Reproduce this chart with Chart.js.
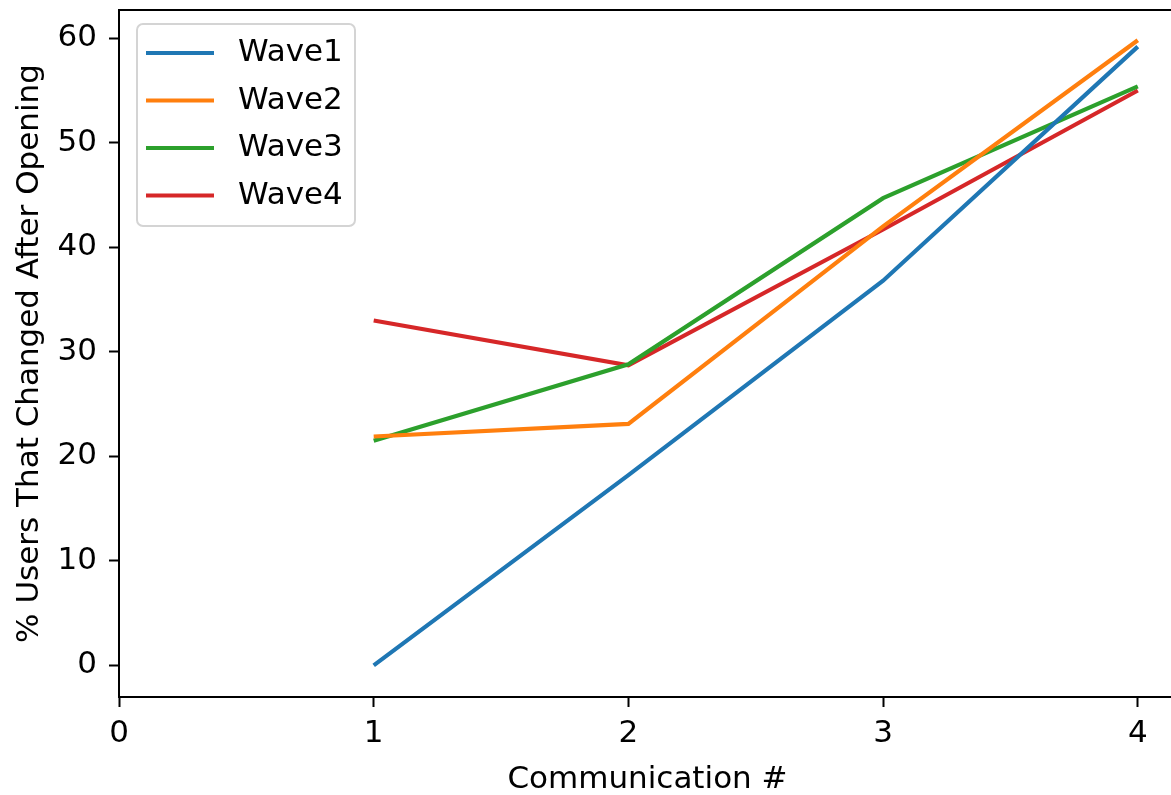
<!DOCTYPE html>
<html>
<head>
<meta charset="utf-8">
<script src="https://cdn.jsdelivr.net/npm/chart.js@4"></script>
<style>
  html, body { margin: 0; padding: 0; background: #fff; overflow: hidden; }
  #wrap { width: 1200px; height: 795px; position: relative; }
</style>
</head>
<body>
<div id="wrap"><canvas id="graph1"></canvas></div>
<script>
// communication numbers
const communications = [1, 2, 3, 4];
const wave1 = [0, 18.2, 36.8, 59.2];
const wave2 = [21.9, 23.1, 42.0, 59.8];
const wave3 = [21.5, 28.8, 44.7, 55.4];
const wave4 = [33.0, 28.7, 41.7, 55.0];
const waveNames = ['Wave1', 'Wave2', 'Wave3', 'Wave4'];
const waveColors = ['#1f77b4', '#ff7f0e', '#2ca02c', '#d62728'];
const xTicks = [0, 1, 2, 3, 4];
const yTicks = [0, 10, 20, 30, 40, 50, 60];

const FONT = "'DejaVu Sans', sans-serif";
const FS = 31;

function toPoints(vals) {
    return communications.map((c, i) => ({ x: c, y: vals[i] }));
}

const series = [wave1, wave2, wave3, wave4];
const datasets = series.map((vals, i) => ({
    label: waveNames[i],
    data: toPoints(vals),
    borderColor: waveColors[i],
    backgroundColor: waveColors[i],
    borderWidth: 4.2,
    pointRadius: 0,
    tension: 0,
    fill: false
}));

// legend box drawn inside the plot, like matplotlib
const boxLegend = {
    id: 'boxLegend',
    afterDatasetsDraw(chart) {
        const ctx = chart.ctx;
        const x = 137, y = 24, w = 218, h = 202;
        ctx.save();
        ctx.beginPath();
        ctx.roundRect(x, y, w, h, 6);
        ctx.fillStyle = 'rgba(255,255,255,0.8)';
        ctx.fill();
        ctx.strokeStyle = '#d4d4d4';
        ctx.lineWidth = 2;
        ctx.stroke();
        ctx.font = FS + 'px ' + FONT;
        ctx.textBaseline = 'middle';
        chart.data.datasets.forEach((ds, i) => {
            const cy = 53 + i * 47.5;
            ctx.beginPath();
            ctx.moveTo(146, cy);
            ctx.lineTo(214, cy);
            ctx.strokeStyle = ds.borderColor;
            ctx.lineWidth = 4.2;
            ctx.stroke();
            ctx.fillStyle = '#000';
            ctx.fillText(ds.label, 238, cy);
        });
        ctx.restore();
    },
    afterDraw(chart) {
        // top spine
        const a = chart.chartArea;
        const ctx = chart.ctx;
        ctx.save();
        ctx.beginPath();
        ctx.moveTo(a.left - 1, a.top);
        ctx.lineTo(a.right, a.top);
        ctx.strokeStyle = '#000';
        ctx.lineWidth = 2;
        ctx.stroke();
        ctx.restore();
    }
};

new Chart(document.querySelector('#graph1'), {
    type: 'line',
    data: { datasets: datasets },
    plugins: [boxLegend],
    options: {
        responsive: true,
        maintainAspectRatio: false,
        animation: false,
        layout: { padding: { top: 10, right: 24, left: 0, bottom: 0 } },
        plugins: {
            legend: { display: false },
            tooltip: { enabled: false }
        },
        scales: {
            x: {
                type: 'linear',
                min: 0,
                max: 4.15,
                afterBuildTicks(scale) { scale.ticks = xTicks.map(v => ({ value: v })); },
                afterFit(scale) { scale.height = 98; scale.paddingLeft = 0; scale.paddingRight = 0; },
                grid: { drawOnChartArea: false, tickLength: 10, tickWidth: 2, tickColor: '#000' },
                border: { display: true, color: '#000', width: 2 },
                ticks: { color: '#000', padding: 8, font: { family: FONT, size: FS } },
                title: {
                    display: true,
                    text: 'Communication #',
                    color: '#000',
                    font: { family: FONT, size: FS },
                    padding: { top: 4, bottom: -4 }
                }
            },
            y: {
                min: -3.02,
                max: 62.7,
                afterBuildTicks(scale) { scale.ticks = yTicks.map(v => ({ value: v })); },
                afterFit(scale) { scale.width = 119; scale.paddingTop = 0; scale.paddingBottom = 0; },
                grid: { drawOnChartArea: false, tickLength: 10, tickWidth: 2, tickColor: '#000' },
                border: { display: true, color: '#000', width: 2 },
                ticks: { color: '#000', padding: 12, font: { family: FONT, size: FS } },
                title: {
                    display: true,
                    text: '% Users That Changed After Opening',
                    color: '#000',
                    font: { family: FONT, size: FS },
                    padding: { top: 11, bottom: 0 }
                }
            }
        }
    }
});
</script>
</body>
</html>
